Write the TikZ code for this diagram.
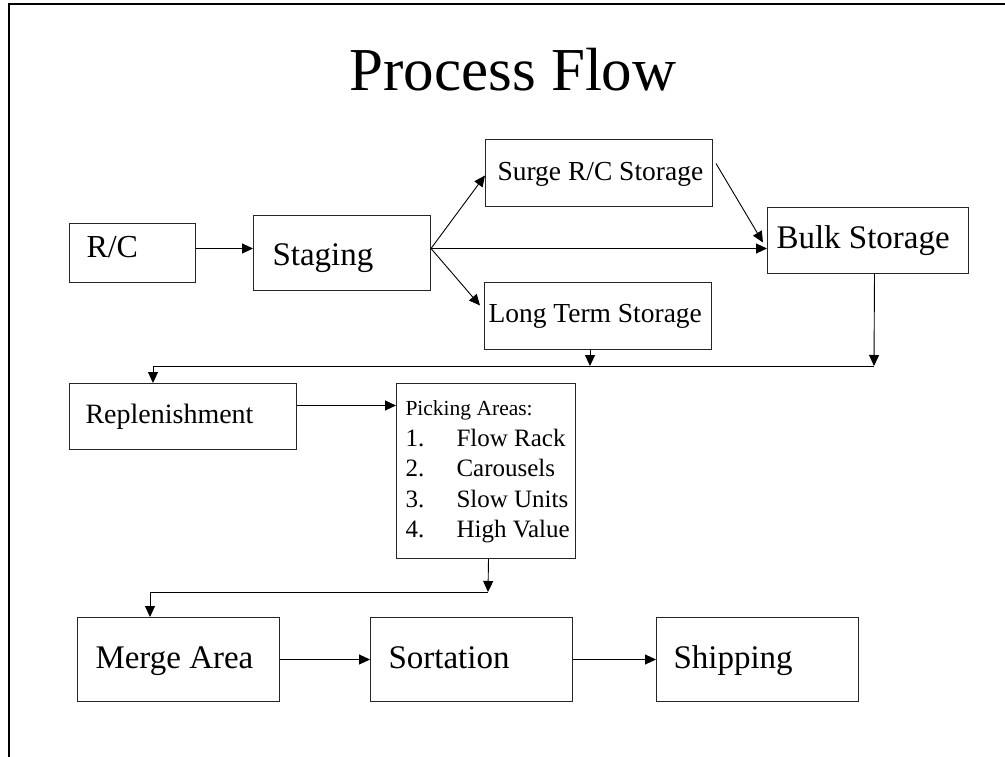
\documentclass[tikz,border=0pt]{standalone}
\usepackage{fontspec}
\setmainfont{Liberation Serif}
\usetikzlibrary{arrows.meta}
\newcommand{\pickitem}[2]{\makebox[161pt][l]{\makebox[51pt][l]{#1}#2}}
\begin{document}
\begin{tikzpicture}[x=1pt,y=-1pt,
  box/.style={draw=black!85, line width=1pt, anchor=north west, inner ysep=0pt, text depth=0pt},
  conn/.style={line width=0.9pt, -{Triangle[length=11pt,width=10pt]}},
  plain/.style={line width=0.9pt}]
\useasboundingbox (0,0) rectangle (1005,757);
\draw[line width=1.2pt] (1005,4) -- (9,4) -- (9,757);

\node[anchor=base] (title) at (513,91) {\fontsize{61}{73}\selectfont Process Flow};

\node[box, minimum width=126pt, minimum height=59pt, inner xsep=17pt, text height=9pt] (rc) at (69,223)
  {\makebox[92pt][l]{\fontsize{32}{38}\selectfont R/C}};
\node[box, minimum width=177pt, minimum height=75pt, inner xsep=19pt, text height=25pt] (staging) at (253,215)
  {\makebox[139pt][l]{\fontsize{33}{40}\selectfont Staging}};
\node[box, minimum width=227pt, minimum height=67pt, inner xsep=12pt, text height=15pt] (surge) at (485,139)
  {\makebox[203pt][l]{\fontsize{27.5}{33}\selectfont Surge R/C Storage}};
\node[box, minimum width=227pt, minimum height=67pt, inner xsep=4pt, text height=13pt] (lt) at (484,282)
  {\makebox[219pt][l]{\fontsize{27.5}{33}\selectfont Long Term Storage}};
\node[box, minimum width=201pt, minimum height=66pt, inner xsep=9pt, text height=16pt] (bulk) at (767,207)
  {\makebox[183pt][l]{\fontsize{33}{40}\selectfont Bulk Storage}};
\node[box, minimum width=227pt, minimum height=66pt, inner xsep=16pt, text height=14pt] (replen) at (69,383)
  {\makebox[195pt][l]{\fontsize{28}{34}\selectfont Replenishment}};
\node[box, minimum width=179pt, minimum height=175pt, inner xsep=9pt, text height=0pt, text depth=111pt] (picking) at (396,383)
  {\parbox[t]{161pt}{\fontsize{21.5}{30.5}\selectfont\makebox[161pt][l]{Picking Areas:}\\
   \fontsize{25}{30.5}\selectfont\pickitem{1.}{Flow Rack}\\
   \pickitem{2.}{Carousels}\\
   \pickitem{3.}{Slow Units}\\
   \pickitem{4.}{High Value}}};
\node[box, minimum width=202pt, minimum height=84pt, inner xsep=18pt, text height=18pt] (merge) at (77,617)
  {\makebox[166pt][l]{\fontsize{33}{40}\selectfont Merge Area}};
\node[box, minimum width=202pt, minimum height=84pt, inner xsep=18pt, text height=18pt] (sortation) at (370,617)
  {\makebox[166pt][l]{\fontsize{33}{40}\selectfont Sortation}};
\node[box, minimum width=202pt, minimum height=84pt, inner xsep=17pt, text height=18pt] (shipping) at (656,617)
  {\makebox[168pt][l]{\fontsize{33}{40}\selectfont Shipping}};

\coordinate (s0) at ([yshift=4.5pt]staging.east);
\coordinate (j1) at (874,366);
\coordinate (j2) at (590,366);
\coordinate (j3) at (153,366);
\coordinate (j4) at (488,592);
\coordinate (j5) at (150,592);
\coordinate (r1) at ([yshift=11pt]replen.east);

\draw[conn] ([yshift=4.5pt]rc.east) -- ([yshift=4.5pt]staging.west);
\draw[conn] (s0) -- ([yshift=-2.5pt]surge.west);
\draw[conn] (s0) -- ([xshift=-4pt,yshift=10.5pt]lt.west);
\draw[conn] (s0) -- ([yshift=-8pt]bulk.west);
\draw[conn] ([xshift=3pt,yshift=9.5pt]surge.east) -- ([xshift=-4pt,yshift=-2pt]bulk.west);
\draw[conn] ([xshift=6.5pt]bulk.south) -- (j1);
\draw[conn] (lt.south -| j2) -- (j2);
\draw[plain] (j1) -- (j3);
\draw[conn] (j3) -- (j3 |- replen.north);
\draw[conn] (r1) -- (r1 -| picking.west);
\draw[conn] ([xshift=2.5pt]picking.south) -- (j4);
\draw[plain] (j4) -- (j5);
\draw[conn] (j5) -- (j5 |- merge.north);
\draw[conn] (merge.east) -- (sortation.west);
\draw[conn] (sortation.east) -- (shipping.west);
\end{tikzpicture}
\end{document}
